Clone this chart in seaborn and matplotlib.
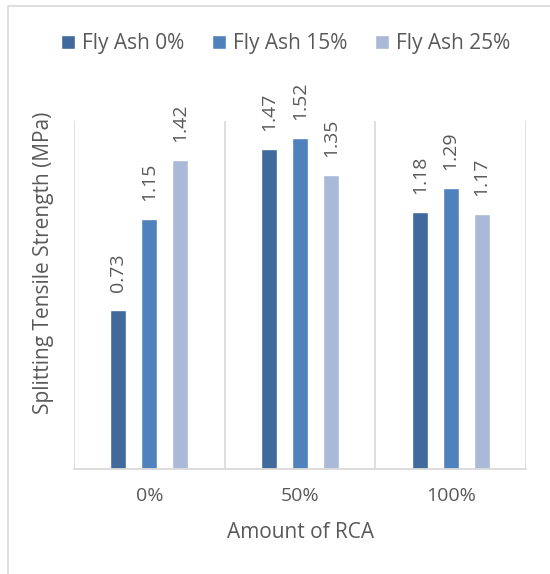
import matplotlib
matplotlib.use("Agg")
import matplotlib.pyplot as plt
from matplotlib.lines import Line2D
import seaborn as sns
import pandas as pd

# ---- data ----
categories = ["0%", "50%", "100%"]
series_names = ["Fly Ash 0%", "Fly Ash 15%", "Fly Ash 25%"]
fly_ash_0 = [0.73, 1.47, 1.18]
fly_ash_15 = [1.15, 1.52, 1.29]
fly_ash_25 = [1.42, 1.35, 1.17]
colors = ["#3F6A9B", "#4F81BD", "#AAB9D7"]

rows = []
for name, vals in zip(series_names, [fly_ash_0, fly_ash_15, fly_ash_25]):
    for c, v in zip(categories, vals):
        rows.append({"RCA": c, "Series": name, "Value": v})
df = pd.DataFrame(rows)

sns.set_theme(style="white")
plt.rcParams["font.family"] = ["Open Sans", "DejaVu Sans"]

W, H = 550, 574
fig = plt.figure(figsize=(W / 100, H / 100), dpi=100)
ax_l, ax_r, ax_t, ax_b = 74, 526, 120.7, 469.3
ax = fig.add_axes([ax_l / W, 1 - ax_b / H, (ax_r - ax_l) / W, (ax_b - ax_t) / H])

sns.barplot(data=df, x="RCA", y="Value", hue="Series", order=categories,
            hue_order=series_names, palette=colors, width=0.616, gap=0.48,
            saturation=1, ax=ax, legend=True)

grey = "#595959"
for cont, vals in zip(ax.containers, [fly_ash_0, fly_ash_15, fly_ash_25]):
    ax.bar_label(cont, labels=[f"{v:.2f}" for v in vals], rotation=90,
                 padding=13, color=grey, fontsize=14)

ax.set_xlim(-0.5, 2.5)
ax.set_ylim(0, 1.6)
ax.set_yticks([])
for x in [-0.5, 0.5, 1.5, 2.5]:
    ax.axvline(x, color="#D9D9D9", lw=1.2, zorder=0)
for s in ["top", "left", "right"]:
    ax.spines[s].set_visible(False)
ax.spines["bottom"].set_color("#D9D9D9")
ax.spines["bottom"].set_linewidth(1.3)

ax.tick_params(axis="x", length=0, pad=13, labelsize=14, labelcolor=grey)

ax.set_xlabel("Amount of RCA", fontsize=15, color=grey)
ax.xaxis.set_label_coords((300.3 - ax_l) / (ax_r - ax_l), -(533.0 - ax_b) / (ax_b - ax_t))
ax.xaxis.label.set_va("center")
ax.set_ylabel("Splitting Tensile Strength (MPa)", fontsize=15, color=grey)
ax.yaxis.set_label_coords((44 - ax_l) / (ax_r - ax_l), (ax_b - 263) / (ax_b - ax_t))
ax.yaxis.label.set_va("center")

handles, labels = ax.get_legend_handles_labels()
ax.get_legend().remove()
fig.legend(handles, labels, loc="center",
           bbox_to_anchor=(285.5 / W, 1 - 43.8 / H), ncol=3, frameon=False,
           fontsize=15, handlelength=0.67, handleheight=0.67,
           handletextpad=0.32, columnspacing=1.35, labelcolor=grey)

# outer chart border (cut off on the right and bottom)
fig.add_artist(Line2D([7.5 / W, 7.5 / W], [0, 1 - 5.5 / H], transform=fig.transFigure,
                      color="#D9D9D9", lw=1.2))
fig.add_artist(Line2D([7.5 / W, 1], [1 - 5.5 / H, 1 - 5.5 / H], transform=fig.transFigure,
                      color="#D9D9D9", lw=1.2))

fig.savefig("out.png", dpi=100, facecolor="white")
